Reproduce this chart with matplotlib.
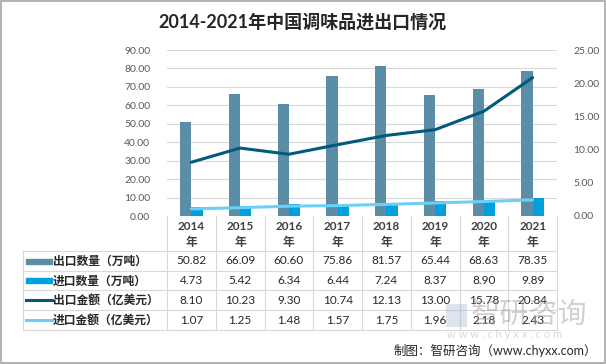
import numpy as np
import matplotlib
matplotlib.use("Agg")
import matplotlib.pyplot as plt
import matplotlib.transforms as mtransforms
from matplotlib.patches import Rectangle

plt.rcParams['font.family'] = ['Lato', 'Noto Sans CJK SC', 'DejaVu Sans']

# data
years = ['2014', '2015', '2016', '2017', '2018', '2019', '2020', '2021']
export_qty = [50.82, 66.09, 60.60, 75.86, 81.57, 65.44, 68.63, 78.35]
import_qty = [4.73, 5.42, 6.34, 6.44, 7.24, 8.37, 8.90, 9.89]
export_val = [8.10, 10.23, 9.30, 10.74, 12.13, 13.00, 15.78, 20.84]
import_val = [1.07, 1.25, 1.48, 1.57, 1.75, 1.96, 2.18, 2.43]
series_names = ['出口数量（万吨）', '进口数量（万吨）', '出口金额（亿美元）', '进口金额（亿美元）']

c_exq = '#5b8ea6'
c_imq = '#00a0dc'
c_exv = '#015a7e'
c_imv = '#6ad0f5'
grid_c = '#d9d9d9'
tick_c = '#595959'

W, H = 606, 364
fig = plt.figure(figsize=(W / 100, H / 100), dpi=100)

# plot area in pixels
x0, x1, y0, y1 = 167, 557, 50, 216
ax = fig.add_axes([x0 / W, 1 - y1 / H, (x1 - x0) / W, (y1 - y0) / H])
ax2 = ax.twinx()

x = np.arange(len(years))
bw = 0.23
ax.bar(x - bw / 2, export_qty, bw, color=c_exq, zorder=2)
ax.bar(x + bw / 2, import_qty, bw, color=c_imq, zorder=2)
ax2.plot(x, export_val, color=c_exv, lw=2.2, solid_capstyle='round')
ax2.plot(x, import_val, color=c_imv, lw=2.2, solid_capstyle='round')

ax.set_xlim(-0.5, len(years) - 0.5)
ax.set_ylim(0, 90)
ax2.set_ylim(0, 25)
ax.set_yticks(np.arange(0, 91, 10))
ax2.set_yticks(np.arange(0, 26, 5))
ax.set_yticklabels([f'{v:.2f}' for v in np.arange(0, 91, 10)])
ax2.set_yticklabels([f'{v:.2f}' for v in np.arange(0, 26, 5)])
ax.set_xticks([])
for a in (ax, ax2):
    for s in a.spines.values():
        s.set_visible(False)
    a.tick_params(axis='y', length=0, labelsize=7.5, labelcolor=tick_c, pad=12)
ax.yaxis.grid(True, color=grid_c, lw=0.8, zorder=0)
ax.set_axisbelow(True)

# data table under the plot
trans = mtransforms.blended_transform_factory(ax.transData, ax.transAxes)
ph = y1 - y0
cw = (x1 - x0) / len(years)


def py(p):
    return -(p - y1) / ph


def px(p):
    return (p - x0) / cw - 0.5


rows = [216, 251, 271, 290, 310, 330]
left = px(23)
lkw = dict(color=grid_c, lw=0.8, transform=trans, clip_on=False)
for i in range(len(years) + 1):
    ax.plot([i - 0.5, i - 0.5], [py(rows[0]), py(rows[-1])], **lkw)
ax.plot([left, left], [py(rows[1]), py(rows[-1])], **lkw)
for r in rows[1:]:
    ax.plot([left, len(years) - 0.5], [py(r), py(r)], **lkw)

for i, yr in enumerate(years):
    ax.text(i, py(226), yr, transform=trans, ha='center', va='center',
            fontsize=8.5, fontweight='bold', color='#404040')
    ax.text(i, py(242), '年', transform=trans, ha='center', va='center',
            fontsize=8.5, fontweight='bold', color='#404040')

table = [export_qty, import_qty, export_val, import_val]
colors = [c_exq, c_imq, c_exv, c_imv]
for k, (vals, name, c) in enumerate(zip(table, series_names, colors)):
    yc = py((rows[k + 1] + rows[k + 2]) / 2)
    for i, v in enumerate(vals):
        ax.text(i, yc, f'{v:.2f}', transform=trans, ha='center', va='center',
                fontsize=8.5, color='#262626', zorder=5)
    ax.text(px(53), yc, name, transform=trans, ha='left', va='center',
            fontsize=8.5, fontweight='bold', color='#262626')
    if k < 2:
        ax.add_patch(Rectangle((px(26), yc - 2.5 / ph), px(52) - px(26), 5 / ph,
                               color=c, transform=trans, clip_on=False))
    else:
        ax.plot([px(26), px(52)], [yc, yc], color=c, lw=2.2, transform=trans,
                clip_on=False)

fig.text(302 / W, 1 - 22 / H, '2014-2021年中国调味品进出口情况', ha='center', va='center',
         fontsize=13, fontweight='bold', color='#262626')

# watermark
fig.patches.append(Rectangle((446 / W, 1 - 327 / H), 21 / W, 23 / H, transform=fig.transFigure,
                             color='#9fb3cf', alpha=0.35, lw=0))
fig.text(529 / W, 1 - 315 / H, '智研咨询', ha='center', va='center', fontsize=21,
         color='#9a9a9a', alpha=0.45)
fig.text(505 / W, 1 - 335 / H, 'w w w . c h y x x . c o m', ha='center', va='center',
         fontsize=8, color='#bfbfbf', alpha=0.6)
fig.text(597 / W, 1 - 350 / H, '制图：智研咨询（www.chyxx.com）', ha='right', va='center',
         fontsize=9, color='#262626')

fig.patches.append(Rectangle((0.002, 0.003), 0.996, 0.994, transform=fig.transFigure,
                             fill=False, ec='#a6a6a6', lw=1.2))

fig.savefig('out.png', dpi=100)
